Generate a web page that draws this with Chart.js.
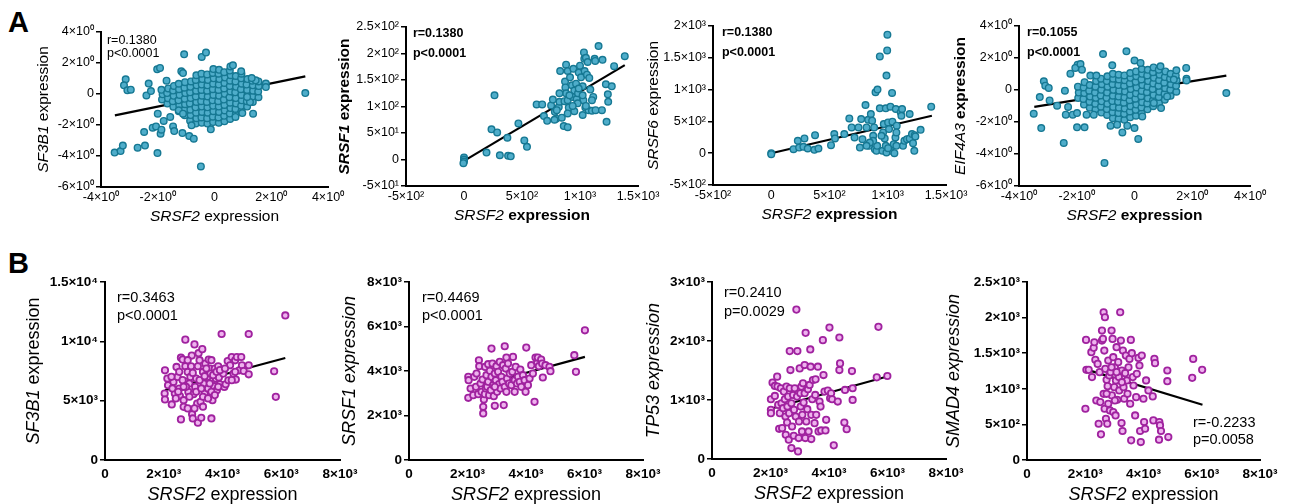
<!DOCTYPE html>
<html>
<head>
<meta charset="utf-8">
<script src="https://cdn.jsdelivr.net/npm/chart.js@4.4.1/dist/chart.umd.min.js"></script>
<style>
body{margin:0;background:#fff;width:1292px;height:504px;position:relative;overflow:hidden;font-family:"Liberation Sans",Arial,sans-serif}
.panel{position:absolute}
.letter{position:absolute;font-weight:bold;font-size:29px;line-height:1;color:#000}
</style>
</head>
<body>
<div class="letter" style="left:8px;top:8px">A</div>
<div class="letter" style="left:8px;top:249px">B</div>
<script>
// ---- data ----
// row A: SF3B1 vs SRSF2 (dense cloud + scattered points)
const a1Pts = [
[-1.85,-0.35],[-1.83,-0.02],[-1.87,0.27],
[-1.66,-0.62],[-1.64,-0.27],[-1.67,0.06],[-1.63,0.36],
[-1.45,-0.82],[-1.47,-0.46],[-1.44,-0.12],[-1.46,0.22],[-1.43,0.52],
[-1.26,-1.12],[-1.24,-0.74],[-1.27,-0.41],[-1.23,-0.06],[-1.25,0.31],[-1.26,0.66],
[-1.05,-1.37],[-1.06,-1.02],[-1.04,-0.66],[-1.05,-0.31],[-1.03,0.06],[-1.06,0.41],[-1.04,0.76],
[-0.86,-1.72],[-0.84,-1.36],[-0.85,-1.01],[-0.87,-0.61],[-0.84,-0.26],[-0.86,0.11],[-0.85,0.46],[-0.83,0.81],
[-0.66,-1.91],[-0.64,-1.56],[-0.65,-1.21],[-0.67,-0.86],[-0.64,-0.51],[-0.66,-0.16],[-0.65,0.21],[-0.63,0.56],[-0.66,0.91],[-0.64,1.21],
[-0.45,-1.86],[-0.46,-1.51],[-0.44,-1.16],[-0.45,-0.81],[-0.47,-0.46],[-0.44,-0.11],[-0.46,0.26],[-0.45,0.61],[-0.43,0.96],[-0.46,1.31],
[-0.25,-1.91],[-0.26,-1.56],[-0.24,-1.21],[-0.25,-0.86],[-0.27,-0.51],[-0.24,-0.16],[-0.26,0.21],[-0.25,0.56],[-0.23,0.91],[-0.26,1.26],
[-0.05,-1.81],[-0.06,-1.46],[-0.04,-1.11],[-0.05,-0.76],[-0.07,-0.41],[-0.04,-0.06],[-0.06,0.31],[-0.05,0.66],[-0.03,1.01],[-0.06,1.36],[-0.04,1.61],
[0.15,-1.86],[0.14,-1.51],[0.16,-1.16],[0.15,-0.81],[0.13,-0.46],[0.16,-0.11],[0.14,0.26],[0.15,0.61],[0.17,0.96],[0.14,1.31],[0.16,1.56],
[0.35,-1.76],[0.34,-1.41],[0.36,-1.06],[0.35,-0.71],[0.33,-0.36],[0.36,0.01],[0.34,0.36],[0.35,0.71],[0.37,1.06],[0.34,1.41],
[0.55,-1.61],[0.54,-1.26],[0.56,-0.91],[0.55,-0.56],[0.53,-0.21],[0.56,0.16],[0.54,0.51],[0.55,0.86],[0.57,1.21],[0.54,1.51],
[0.75,-1.31],[0.74,-0.96],[0.76,-0.61],[0.75,-0.26],[0.73,0.11],[0.76,0.46],[0.74,0.81],[0.75,1.16],
[0.95,-1.11],[0.94,-0.76],[0.96,-0.41],[0.95,-0.06],[0.93,0.31],[0.96,0.66],[0.94,1.01],[0.95,1.31],
[1.15,-0.81],[1.14,-0.46],[1.16,-0.11],[1.15,0.26],[1.13,0.61],[1.16,0.96],
[1.35,-0.51],[1.34,-0.16],[1.36,0.21],[1.35,0.56],[1.33,0.86],
[1.55,-0.21],[1.54,0.16],[1.56,0.51],[1.55,0.81],
[-3.13,0.95],[-3.19,0.56],[-3.07,0.24],[-2.95,0.28],[-3.52,-3.78],[-3.31,-3.68],[-3.23,-3.33],[-2.71,-3.46],
[-2.45,-3.33],[-2.48,-2.45],[-2.40,-0.09],[-2.32,0.67],[-2.24,0.19],[-2.02,1.59],[-1.92,1.68],[-2.01,-3.81],
[-2.18,-2.17],[-2.06,-2.09],[-1.90,-2.56],[-1.87,-2.30],[-2.0,-1.27],[-1.69,0.86],[-1.79,-1.74],[-1.56,-1.48],
[-1.46,-2.09],[-1.42,-2.39],[-1.07,2.56],[-1.17,1.46],[-1.11,1.35],[-1.13,-2.52],[-1.26,-1.05],[-1.11,-1.27],
[-0.89,-2.71],[-0.73,-2.88],[-0.48,-4.67],[-0.45,2.39],[-0.30,2.67],[-0.13,-2.28],[-0.81,-2.02],[0.98,-1.23],
[1.36,-1.27],[1.25,-0.52],[0.56,1.78],[0.65,1.85],[0.94,1.46],[1.81,0.67],[1.81,0.45],[3.2,0.06],
[1.45,0.88],[1.31,1.03],[1.15,-0.19],[0.74,-1.48]
];
const a1Fit = [[-3.51,-1.38],[3.2,1.14]];

// row A: SRSF1 vs SRSF2
const a2Pts = [
[0,4],[0,0],[0,-4],[-5,-7],[263,121],[237,57],[286,51],[194,13],[309,8],[374,41],[380,7],[403,6],
[469,68],[520,36],[543,24],[626,104],[674,104],[689,82],[717,73],[751,102],[783,90],[794,77],[817,99],
[823,109],[829,167],[780,75],[866,110],[880,179],[894,167],[860,63],[894,61],[843,79],[871,147],[914,155],
[874,136],[880,125],[894,112],[903,98],[931,140],[937,118],[951,130],[943,171],[951,91],[966,143],[971,114],
[983,125],[989,164],[1000,177],[1009,155],[1023,138],[1029,112],[1034,202],[1040,167],[1037,190],[1051,192],
[1060,160],[1066,184],[1080,154],[1089,132],[1046,98],[1074,93],[1126,190],[1131,186],[1160,214],[1114,118],
[1103,92],[1134,93],[1194,188],[1189,93],[1223,142],[1229,71],[1240,123],[1243,109],[1274,138],[1294,176],
[1386,195],[1023,121],[980,106],[937,101],[766,113],[800,93],[894,87],[1023,84],[1051,101],[1103,112],
[989,134],[909,121],[823,125]
];
const a2Fit = [[0,-2.5],[1386,178]];

// row A: SRSF6 vs SRSF2
const a3Pts = [
[0,0],[0,-15],[191,63],[228,195],[239,89],[285,232],[276,100],[313,74],[370,53],[376,284],[405,74],
[513,126],[541,300],[547,232],[627,300],[670,547],[690,405],[715,247],[749,405],[772,537],[783,221],
[809,758],[818,405],[832,526],[840,116],[855,616],[866,511],[875,274],[883,405],[889,63],[903,37],
[909,116],[895,958],[912,1000],[932,1521],[954,37],[932,705],[960,326],[966,458],[974,232],[983,116],
[983,705],[997,1863],[995,1616],[989,1221],[1003,484],[1011,379],[1023,732],[1023,37],[1037,947],
[1040,495],[1046,116],[1051,142],[1057,0],[1066,247],[1074,116],[1069,695],[1111,642],[1117,589],
[1123,695],[1131,116],[1077,432],[1143,195],[1165,221],[1188,616],[1188,232],[1208,300],[1217,158],
[1228,37],[1231,284],[1237,263],[1282,368],[1373,732],[989,11],[1003,79],[875,195],[846,168],
[818,116],[761,89],[946,274],[1074,326]
];
const a3Fit = [[0,0],[1379,589]];

// row A: EIF4A3 vs SRSF2
const a4Pts = [
[-1.95,-0.5],[-1.93,-0.16],[-1.96,0.21],
[-1.75,-0.91],[-1.77,-0.56],[-1.74,-0.19],[-1.76,0.16],[-1.73,0.49],
[-1.55,-1.11],[-1.56,-0.74],[-1.54,-0.41],[-1.57,-0.04],[-1.55,0.31],
[-1.35,-1.21],[-1.36,-0.86],[-1.34,-0.49],[-1.37,-0.16],[-1.35,0.21],[-1.33,0.56],
[-1.15,-1.41],[-1.16,-1.04],[-1.14,-0.71],[-1.17,-0.34],[-1.15,0.01],[-1.13,0.36],[-1.16,0.71],
[-0.95,-1.56],[-0.96,-1.19],[-0.94,-0.86],[-0.97,-0.49],[-0.95,-0.16],[-0.93,0.21],[-0.96,0.56],[-0.94,0.86],
[-0.75,-1.76],[-0.76,-1.39],[-0.74,-1.06],[-0.77,-0.69],[-0.75,-0.36],[-0.73,0.01],[-0.76,0.36],[-0.74,0.71],[-0.75,1.01],
[-0.55,-1.81],[-0.56,-1.44],[-0.54,-1.11],[-0.57,-0.74],[-0.55,-0.41],[-0.53,-0.04],[-0.56,0.31],[-0.54,0.66],[-0.55,0.96],
[-0.35,-1.86],[-0.36,-1.49],[-0.34,-1.16],[-0.37,-0.79],[-0.35,-0.46],[-0.33,-0.09],[-0.36,0.26],[-0.34,0.61],[-0.35,0.91],
[-0.15,-1.71],[-0.16,-1.34],[-0.14,-1.01],[-0.17,-0.64],[-0.15,-0.31],[-0.13,0.06],[-0.16,0.41],[-0.14,0.76],[-0.15,1.06],
[0.05,-1.61],[0.04,-1.24],[0.06,-0.91],[0.03,-0.54],[0.05,-0.21],[0.07,0.16],[0.04,0.51],[0.06,0.86],[0.05,1.16],
[0.25,-1.46],[0.24,-1.09],[0.26,-0.76],[0.23,-0.39],[0.25,-0.06],[0.27,0.31],[0.24,0.66],[0.26,1.01],[0.25,1.31],
[0.45,-1.21],[0.44,-0.84],[0.46,-0.51],[0.43,-0.14],[0.45,0.21],[0.47,0.56],[0.44,0.91],[0.46,1.26],
[0.65,-1.01],[0.64,-0.64],[0.66,-0.31],[0.63,0.06],[0.65,0.41],[0.67,0.76],[0.64,1.11],[0.66,1.41],
[0.85,-0.81],[0.84,-0.44],[0.86,-0.11],[0.83,0.26],[0.85,0.61],[0.87,0.96],[0.84,1.26],
[1.05,-0.61],[1.04,-0.24],[1.06,0.11],[1.03,0.46],[1.05,0.81],[1.07,1.16],
[1.25,-0.36],[1.24,0.01],[1.26,0.36],[1.23,0.71],[1.25,1.01],
[1.45,-0.11],[1.44,0.26],[1.46,0.61],[1.43,0.91],
[-3.49,-1.48],[-3.23,-2.38],[-3.14,0.54],[-3.09,0.27],[-2.97,0.13],[-3.28,-0.44],[-2.94,-0.65],[-2.68,-0.98],
[-2.45,-3.31],[-2.41,-0.04],[-2.30,-1.06],[-2.38,-1.54],[-2.22,1.02],[-2.14,-1.54],[-1.99,-2.33],[-1.73,-2.33],
[-1.97,1.58],[-2.05,1.38],[-1.87,1.62],[-1.82,1.27],[-1.99,-1.44],[-1.66,-1.54],[-1.53,0.9],[-1.32,0.9],
[-1.41,-1.54],[-1.04,-4.56],[-1.09,2.25],[-0.77,1.54],[-0.28,2.42],[-0.83,-2.23],[-0.6,-2.17],[-0.42,-2.65],
[-0.25,-2.23],[0.0,-2.38],[0.13,-3.06],[0.0,1.85],[0.21,1.69],[0.27,-1.65],[0.92,-1.13],[1.45,1.23],
[1.79,1.38],[1.8,0.71],[1.8,0.6],[3.18,-0.19],[1.36,0.65],[0.9,1.48],[1.13,-0.4],[0.67,-0.81]
];
const a4Fit = [[-3.47,-1.06],[3.18,0.9]];

// row B: SF3B1 vs SRSF2
const b1Pts = [
[2042,7560],[2031,5600],[2042,5100],[2146,6300],[2273,4680],[2331,6580],[2377,5600],[2435,7840],[2469,7000],
[2527,6020],[2550,5380],[2585,8620],[2642,8460],[2585,3420],[2677,5040],[2677,4480],[2735,10140],[2735,7900],
[2769,6580],[2815,7420],[2838,5740],[2873,6440],[2908,7000],[2931,7900],[2954,8800],[2965,3860],[2988,3500],
[3012,5540],[3046,9740],[3069,6160],[3104,6860],[3138,4760],[3162,3140],[3185,9000],[3254,4900],[3277,3560],
[3312,9340],[3335,7420],[3358,6440],[3392,5600],[3415,8120],[3485,7000],[3508,6020],[3531,8460],[3565,7700],
[3589,7280],[3623,3500],[3658,5040],[3716,6220],[3739,7700],[3773,6860],[3808,5880],[3854,7900],[3877,6960],
[3912,6380],[3970,10620],[4027,7280],[4062,6160],[4108,6380],[4177,8340],[4200,6720],[4258,7980],[4315,8680],
[4373,7280],[4431,8400],[4488,8680],[4454,6780],[4569,7560],[4638,8680],[4662,7980],[4719,7500],[4892,10620],
[4892,7220],[4892,7980],[5758,7480],[5815,5320],[6138,12180],
[2123,6870],[2296,6030],[2411,5190],[2527,7430],[2642,6730],[2758,6170],[2873,5330],[2988,7340],[3104,5750],
[3162,7900],[3219,6730],[3277,6030],[3335,5330],[3392,7060],[3450,7710],[3508,5190],[3565,6450],[3623,5750],
[3681,7150],[3739,5470],[3796,7430],[3854,6170],[2815,4350],[3046,4350],[3335,4490],[2677,6170],[2492,5750],
[2262,7010],[2815,8410],[3219,8410],[3623,8410],[3912,7570],[4085,7710],[4315,6730],[4431,7430]
];
const b1Fit = [[2042,5880],[6138,8600]];

// row B: SRSF1 vs SRSF2
const b2Pts = [
[2027,3737],[2038,3587],[2027,2795],[2106,3214],[2197,2915],[2231,3737],[2288,3288],[2310,3886],[2367,2960],
[2390,4484],[2401,4215],[2446,3438],[2480,3064],[2514,3617],[2537,2392],[2537,2093],[2560,2720],[2593,2960],
[2605,4185],[2627,3214],[2650,3811],[2673,3288],[2707,3513],[2707,4305],[2740,2915],[2763,4006],[2797,3139],
[2820,5007],[2820,3737],[2854,4335],[2877,3363],[2899,2870],[2933,2437],[2933,3886],[2967,3587],[2990,4215],
[3012,3064],[3046,3961],[3080,3408],[3103,4409],[3126,3214],[3160,3737],[3194,3513],[3216,4260],[3239,2467],
[3273,5112],[3273,3288],[3307,4111],[3330,4603],[3352,3662],[3386,4335],[3420,3438],[3443,3886],[3499,3363],
[3533,3961],[3556,4633],[3613,3587],[3647,4185],[3692,3438],[3726,3737],[3783,3513],[3806,4066],[3839,3288],
[3896,3811],[3952,3587],[3986,3064],[4009,5052],[4066,3363],[4122,3662],[4292,2616],[4326,4603],[4371,4335],
[4405,4603],[4439,4215],[4518,4514],[4552,4335],[4575,3707],[4666,4260],[4802,4185],[4836,3991],[5651,4709],
[5708,3961],[6014,5829],[4236,3886],[4179,4260],[3613,3064],[3330,3064],[2933,3288]
];
const b2Fit = [[2027,3214],[6014,4634]];

// row B: TP53 vs SRSF2
const b3Pts = [
[2014,1013],[2014,833],[2014,777],[2070,1294],[2149,1069],[2149,1238],[2228,1396],[2240,1227],[2262,917],
[2296,512],[2319,777],[2353,1199],[2376,945],[2398,523],[2432,861],[2455,1142],[2489,1013],[2511,720],
[2522,411],[2545,1227],[2568,619],[2579,889],[2602,1058],[2624,326],[2636,777],[2658,1199],[2658,1829],
[2681,1508],[2715,945],[2715,186],[2738,551],[2772,1086],[2794,394],[2805,833],[2828,1199],[2862,720],
[2885,2532],[2907,1058],[2919,1829],[2941,129],[2964,355],[2975,636],[2998,1536],[3020,1114],[3032,889],
[3054,1227],[3077,467],[3088,748],[3111,1283],[3133,956],[3167,1114],[3167,1592],[3190,355],[3201,2138],
[3224,636],[3258,844],[3280,1182],[3303,467],[3337,1255],[3360,1857],[3371,1564],[3394,338],[3394,748],
[3428,1013],[3450,1339],[3507,608],[3530,1086],[3541,1350],[3563,748],[3620,1564],[3643,467],[3677,974],
[3711,889],[3733,484],[3790,2014],[3812,1423],[3846,1142],[3880,484],[3903,664],[3959,1159],[4016,2228],
[4038,1030],[4072,1114],[4106,1013],[4163,231],[4299,974],[4355,1508],[4355,2059],[4378,1620],[4525,619],
[4548,1170],[4604,506],[4785,1491],[4808,1001],[4808,1199],[5633,1384],[5690,2240],[5995,1407]
];
const b3Fit = [[2070,861],[6052,1407]];

// row B: SMAD4 vs SRSF2
const b4Pts = [
[2027,1687],[2005,720],[2039,1266],[2118,1266],[2232,1164],[2209,1514],[2289,1575],[2312,1654],[2346,1407],
[2380,836],[2426,1350],[2460,509],[2494,1234],[2517,813],[2540,360],[2574,1678],[2574,1818],[2608,1701],
[2631,930],[2631,2075],[2654,1537],[2665,720],[2676,2005],[2688,1280],[2711,579],[2733,1126],[2756,509],
[2768,1037],[2790,790],[2790,1397],[2824,1187],[2847,696],[2870,1234],[2904,1818],[2915,907],[2938,1701],
[2961,1444],[2961,673],[2995,1023],[3018,1303],[3041,626],[3052,1117],[3075,1584],[3098,846],[3132,1374],
[3155,1164],[3166,977],[3200,2075],[3223,1678],[3246,519],[3257,1257],[3280,407],[3292,1537],[3314,1023],
[3337,860],[3371,1220],[3394,1467],[3428,1117],[3451,930],[3485,1303],[3519,1420],[3542,790],[3565,1687],
[3576,276],[3599,1500],[3633,1164],[3656,1046],[3713,626],[3747,883],[3770,1210],[3827,1434],[3861,1327],
[3884,407],[3907,252],[3941,1467],[3998,860],[4021,533],[4055,439],[4089,1117],[4169,977],[4317,893],
[4339,556],[4374,1420],[4396,1360],[4544,533],[4567,486],[4601,407],[4533,285],[4818,1257],[4818,1107],
[4852,322],[5706,1420],[5672,1154],[6014,1266],[2904,1303],[3075,1234],[2733,930],[3018,836],[3257,1093]
];
const b4Fit = [[2050,1270],[6025,776]];

// tick values and labels
const ticksExpA = [-6,-4,-2,0,2,4];
const labelsExpA = ['-6×10⁰','-4×10⁰','-2×10⁰','0','2×10⁰','4×10⁰'];
const ticksExpAx = [-4,-2,0,2,4];
const labelsExpAx = ['-4×10⁰','-2×10⁰','0','2×10⁰','4×10⁰'];
const ticksLinX = [-500,0,500,1000,1500];
const labelsLinX = ['-5×10²','0','5×10²','1×10³','1.5×10³'];
const ticksA2Y = [-50,0,50,100,150,200,250];
const labelsA2Y = ['-5×10¹','0','5×10¹','1×10²','1.5×10²','2×10²','2.5×10²'];
const ticksA3Y = [-500,0,500,1000,1500,2000];
const labelsA3Y = ['-5×10²','0','5×10²','1×10³','1.5×10³','2×10³'];
const ticksBX = [0,2000,4000,6000,8000];
const labelsBX = ['0','2×10³','4×10³','6×10³','8×10³'];
const ticksB1Y = [0,5000,10000,15000];
const labelsB1Y = ['0','5×10³','1×10⁴','1.5×10⁴'];
const ticksB3Y = [0,1000,2000,3000];
const labelsB3Y = ['0','1×10³','2×10³','3×10³'];
const ticksB4Y = [0,500,1000,1500,2000,2500];
const labelsB4Y = ['0','5×10²','1×10³','1.5×10³','2×10³','2.5×10³'];

// ---- drawing ----
Chart.defaults.font.family = '"Liberation Sans", Arial, sans-serif';
Chart.defaults.color = '#000';

const FF = '"Liberation Sans", Arial, sans-serif';

function drawParts(ctx, parts, cx, cy){
  let total = 0;
  parts.forEach(p => { ctx.font = p[1] + ' ' + FF; total += ctx.measureText(p[0]).width; });
  let x = cx - total / 2;
  parts.forEach(p => {
    ctx.font = p[1] + ' ' + FF;
    ctx.fillText(p[0], x, cy);
    x += ctx.measureText(p[0]).width;
  });
}

const textPlugin = {
  id: 'figText',
  afterDraw(chart, args, o){
    const {ctx, chartArea: a, scales} = chart;
    ctx.save();
    ctx.fillStyle = '#000';
    ctx.textBaseline = 'middle';
    ctx.textAlign = 'left';
    drawParts(ctx, o.xTitle, (a.left + a.right) / 2, a.bottom + o.xOff);
    // stats note
    ctx.font = o.noteFont + ' ' + FF;
    const nx = scales.x.getPixelForValue(o.note[0]);
    const ny = scales.y.getPixelForValue(o.note[1]);
    o.noteLines.forEach((t, i) => ctx.fillText(t, nx, ny + i * o.noteGap));
    ctx.translate(a.left - o.yOff, (a.top + a.bottom) / 2);
    ctx.rotate(-Math.PI / 2);
    drawParts(ctx, o.yTitle, 0, 0);
    ctx.restore();
  }
};

function makePanel(p){
  const rowA = p.row === 'A';
  const yW = 92, padR = 34;
  const top = rowA ? 0 : 240;
  const bottomEdge = rowA ? 238 : 504;
  const [L, R, T, B] = p.area;
  const left = L - yW;
  const w = R + padR - left;
  const h = bottomEdge - top;
  const div = document.createElement('div');
  div.className = 'panel';
  div.style.cssText = `left:${left}px;top:${top}px;width:${w}px;height:${h}px`;
  const cv = document.createElement('canvas');
  cv.width = w; cv.height = h;
  div.appendChild(cv);
  document.body.appendChild(div);

  const tickFont = rowA ? {size: 12.5} : {size: 13.5, weight: 'bold'};
  const ptFill = rowA ? '#4fadca' : '#eeb2ee';
  const ptLine = rowA ? '#167893' : '#a0229f';

  new Chart(cv, {
    type: 'scatter',
    data: {
      datasets: [
        {
          data: p.pts.map(d => ({x: d[0], y: d[1]})),
          pointRadius: rowA ? 3.3 : 3.2, pointBorderWidth: rowA ? 1.4 : 1.8,
          backgroundColor: ptFill, borderColor: ptLine,
          pointHoverRadius: 3.3
        },
        {
          data: p.fit.map(d => ({x: d[0], y: d[1]})),
          showLine: true, pointRadius: 0, borderColor: '#000', borderWidth: 2.2
        }
      ]
    },
    options: {
      responsive: false, animation: false, events: [],
      layout: {autoPadding: false, padding: {top: T - top, right: padR, left: 0, bottom: 0}},
      plugins: {
        legend: {display: false}, tooltip: {enabled: false},
        figText: p.text
      },
      scales: {
        x: {
          type: 'linear', min: p.xTicks[0], max: p.xTicks[p.xTicks.length - 1],
          afterFit: s => { s.height = bottomEdge - B; },
          afterBuildTicks: s => { s.ticks = p.xTicks.map(v => ({value: v})); },
          grid: {display: false, drawTicks: false},
          border: {display: true, color: '#000', width: 2},
          ticks: {font: tickFont, padding: rowA ? 3 : 6, maxRotation: 0, autoSkip: false,
                  callback: (v, i) => p.xLabels[i]}
        },
        y: {
          type: 'linear', min: p.yTicks[0], max: p.yTicks[p.yTicks.length - 1],
          afterFit: s => { s.width = yW; },
          afterBuildTicks: s => { s.ticks = p.yTicks.map(v => ({value: v})); },
          grid: {display: true, drawOnChartArea: false, drawTicks: true, tickLength: 5, color: '#000', lineWidth: 1.5},
          border: {display: true, color: '#000', width: 2},
          ticks: {font: tickFont, padding: 2, autoSkip: false,
                  callback: (v, i) => p.yLabels[i]}
        }
      }
    },
    plugins: [textPlugin]
  });
}

const A_N = '15.5px', B_N = '18px';
const noteA = 'bold 12.5px';

makePanel({row: 'A', area: [101, 328, 32, 187], pts: a1Pts, fit: a1Fit,
  xTicks: ticksExpAx, xLabels: labelsExpAx, yTicks: ticksExpA, yLabels: labelsExpA,
  text: {xTitle: [['SRSF2', 'italic ' + A_N], [' expression', A_N]], xOff: 30,
         yTitle: [['SF3B1', 'italic ' + A_N], [' expression', A_N]], yOff: 57,
         note: [-3.79, 3.45], noteLines: ['r=0.1380', 'p<0.0001'], noteGap: 13.5, noteFont: '12.5px'}});

makePanel({row: 'A', area: [406, 638, 27, 186], pts: a2Pts, fit: a2Fit,
  xTicks: ticksLinX, xLabels: labelsLinX, yTicks: ticksA2Y, yLabels: labelsA2Y,
  text: {xTitle: [['SRSF2', 'italic ' + A_N], [' expression', 'bold ' + A_N]], xOff: 30,
         yTitle: [['SRSF1', 'italic bold ' + A_N], [' expression', 'bold ' + A_N]], yOff: 61,
         note: [-440, 238], noteLines: ['r=0.1380', 'p<0.0001'], noteGap: 20, noteFont: noteA}});

makePanel({row: 'A', area: [713, 946, 26, 185], pts: a3Pts, fit: a3Fit,
  xTicks: ticksLinX, xLabels: labelsLinX, yTicks: ticksA3Y, yLabels: labelsA3Y,
  text: {xTitle: [['SRSF2', 'italic ' + A_N], [' expression', 'bold ' + A_N]], xOff: 30,
         yTitle: [['SRSF6', 'italic ' + A_N], [' expression', A_N]], yOff: 59,
         note: [-423, 1890], noteLines: ['r=0.1380', 'p<0.0001'], noteGap: 20, noteFont: noteA}});

makePanel({row: 'A', area: [1019, 1250, 26, 186], pts: a4Pts, fit: a4Fit,
  xTicks: ticksExpAx, xLabels: labelsExpAx, yTicks: ticksExpA, yLabels: labelsExpA,
  text: {xTitle: [['SRSF2', 'italic ' + A_N], [' expression', 'bold ' + A_N]], xOff: 30,
         yTitle: [['EIF4A3', 'italic ' + A_N], [' expression', 'bold ' + A_N]], yOff: 58,
         note: [-3.72, 3.56], noteLines: ['r=0.1055', 'p<0.0001'], noteGap: 20, noteFont: noteA}});

makePanel({row: 'B', area: [105, 340, 282, 460], pts: b1Pts, fit: b1Fit,
  xTicks: ticksBX, xLabels: labelsBX, yTicks: ticksB1Y, yLabels: labelsB1Y,
  text: {xTitle: [['SRSF2', 'italic ' + B_N], [' expression', B_N]], xOff: 35,
         yTitle: [['SF3B1', 'italic ' + B_N], [' expression', B_N]], yOff: 71,
         note: [410, 13652], noteLines: ['r=0.3463', 'p<0.0001'], noteGap: 18, noteFont: '14.5px'}});

makePanel({row: 'B', area: [409, 643, 282, 460], pts: b2Pts, fit: b2Fit,
  xTicks: ticksBX, xLabels: labelsBX, yTicks: ticksBX, yLabels: labelsBX,
  text: {xTitle: [['SRSF2', 'italic ' + B_N], [' expression', B_N]], xOff: 35,
         yTitle: [['SRSF1 expression', 'italic ' + B_N]], yOff: 59,
         note: [444, 7281], noteLines: ['r=0.4469', 'p<0.0001'], noteGap: 18, noteFont: '14.5px'}});

makePanel({row: 'B', area: [712, 946, 282, 459], pts: b3Pts, fit: b3Fit,
  xTicks: ticksBX, xLabels: labelsBX, yTicks: ticksB3Y, yLabels: labelsB3Y,
  text: {xTitle: [['SRSF2', 'italic ' + B_N], [' expression', B_N]], xOff: 35,
         yTitle: [['TP53 expression', 'italic ' + B_N]], yOff: 58,
         note: [410, 2814], noteLines: ['r=0.2410', 'p=0.0029'], noteGap: 19, noteFont: '14.5px'}});

makePanel({row: 'B', area: [1027, 1260, 282, 460], pts: b4Pts, fit: b4Fit,
  xTicks: ticksBX, xLabels: labelsBX, yTicks: ticksB4Y, yLabels: labelsB4Y,
  text: {xTitle: [['SRSF2', 'italic ' + B_N], [' expression', B_N]], xOff: 35,
         yTitle: [['SMAD4 expression', 'italic ' + B_N]], yOff: 73,
         note: [5700, 520], noteLines: ['r=-0.2233', 'p=0.0058'], noteGap: 17, noteFont: '14.5px'}});
</script>
</body>
</html>
